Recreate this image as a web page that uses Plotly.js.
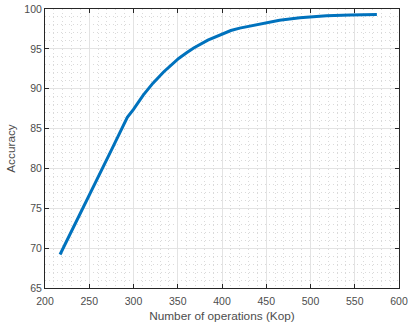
<!DOCTYPE html>
<html><head><meta charset="utf-8">
<script src="https://cdn.plot.ly/plotly-3.0.1.min.js"></script>
<style>html,body{margin:0;padding:0;background:#fff}#c{width:408px;height:325px}</style>
</head><body><div id="c"></div>
<script>
const operations = [217, 230, 245, 260, 275, 293, 300, 311, 322, 334, 345, 351, 360, 368, 384, 400, 410, 420, 439, 450, 465, 488, 518, 545, 575];
const accuracy   = [69.2, 72.1, 75.5, 78.9, 82.3, 86.4, 87.4, 89.2, 90.7, 92.1, 93.2, 93.8, 94.5, 95.1, 96.1, 96.9, 97.3, 97.6, 98.0, 98.3, 98.6, 98.9, 99.15, 99.25, 99.3];
const xTicks = [200, 250, 300, 350, 400, 450, 500, 550, 600];
const yTicks = [65, 70, 75, 80, 85, 90, 95, 100];

const font = {family: 'Liberation Sans, Arial, sans-serif', size: 10.5, color: '#4d4d4d'};
const titleFont = {family: 'Liberation Sans, Arial, sans-serif', size: 11.8, color: '#4d4d4d'};
const axisCommon = {
  showline: true, linecolor: '#262626', linewidth: 1, mirror: 'ticks',
  ticks: 'inside', ticklen: 4, tickcolor: '#262626', tickwidth: 1,
  showgrid: true, gridcolor: '#e3e3e3', gridwidth: 1, zeroline: false,
  tickfont: font, tickmode: 'array'
};
Plotly.newPlot('c', [{
  x: operations, y: accuracy, type: 'scatter', mode: 'lines',
  line: {color: '#0072BD', width: 3}, showlegend: false
}], {
  width: 408, height: 325,
  margin: {l: 45, r: 9, t: 9, b: 37},
  paper_bgcolor: '#fff', plot_bgcolor: '#fff',
  xaxis: Object.assign({}, axisCommon, {
    range: [200, 600], tickvals: xTicks, ticktext: xTicks.map(String),
    ticklabelstandoff: 3,
    minor: {dtick: 10, showgrid: true, griddash: '1px,3px', gridcolor: '#dadada', gridwidth: 1, ticks: ''},
    title: {text: 'Number of operations (Kop)', font: titleFont, standoff: 6}
  }),
  yaxis: Object.assign({}, axisCommon, {
    range: [65, 100], tickvals: yTicks, ticktext: yTicks.map(String),
    minor: {dtick: 1, showgrid: true, griddash: '1px,3px', gridcolor: '#dadada', gridwidth: 1, ticks: ''},
    title: {text: 'Accuracy', font: titleFont, standoff: 6}
  })
}, {displayModeBar: false, staticPlot: true});
</script></body></html>
